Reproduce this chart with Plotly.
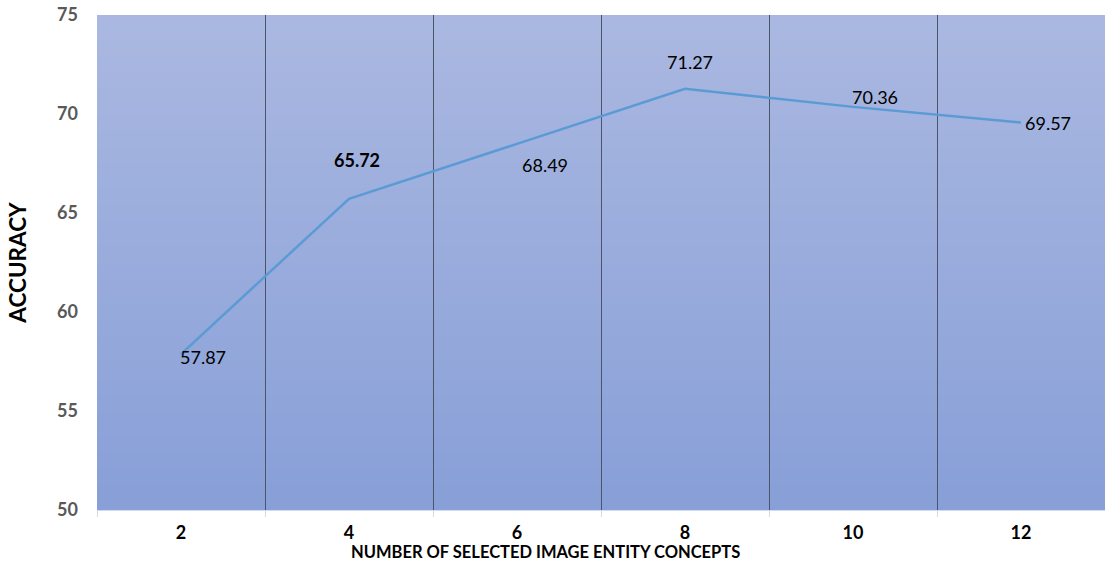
import plotly.graph_objects as go

categories = ["2", "4", "6", "8", "10", "12"]
accuracy = [57.87, 65.72, 68.49, 71.27, 70.36, 69.57]
label_bold = [False, True, False, False, False, False]
y_ticks = [50, 55, 60, 65, 70, 75]

# label offsets (pixels) relative to each point
label_dx = [22, 8, 28, 5, 22, 27]
label_dy = [-3, 39, -21, 27, 10, 0]

W, H = 1105, 567
FONT = "Lato, Open Sans, sans-serif"
fig = go.Figure()

fig.add_trace(go.Scatter(
    x=categories, y=accuracy, mode="lines",
    line=dict(color="#5B9BD5", width=2.5),
    hoverinfo="skip", showlegend=False,
))

# gradient background as overlapping horizontal strips
top = (170, 184, 225)
bot = (136, 159, 215)
n = 60
for i in range(n):
    t = i / (n - 1)
    c = tuple(round(top[k] + (bot[k] - top[k]) * t) for k in range(3))
    fig.add_shape(type="rect", xref="paper", yref="paper",
                  x0=0, x1=1, y0=max(0, 1 - (i + 1) / n - 0.006), y1=1 - i / n,
                  fillcolor="rgb(%d,%d,%d)" % c, line=dict(width=0),
                  layer="below")

for i, (v, b, dx, dy) in enumerate(zip(accuracy, label_bold, label_dx, label_dy)):
    fig.add_annotation(
        x=i, y=v, text=("<b>%.2f</b>" % v) if b else ("%.2f" % v),
        showarrow=False, xshift=dx, yshift=dy,
        font=dict(family=FONT, size=18, color="#000000"),
    )

fig.add_annotation(
    xref="paper", yref="paper", x=(545 - 97) / (W - 97), y=0,
    yshift=-42, yanchor="middle", showarrow=False,
    text="<b>NUMBER OF SELECTED IMAGE ENTITY CONCEPTS</b>",
    font=dict(family=FONT, size=16.5, color="#000000"),
)

fig.update_layout(
    width=W, height=H,
    margin=dict(l=97, r=0, t=15, b=57),
    paper_bgcolor="white", plot_bgcolor="rgba(0,0,0,0)",
    xaxis=dict(
        type="category", range=[-0.5, 5.5], tickson="boundaries",
        showgrid=True, gridcolor="#4C5468", gridwidth=1,
        ticks="outside", ticklen=6, tickcolor="#D0DAF0",
        showline=True, linecolor="#D0DAF0", linewidth=1,
        tickfont=dict(family=FONT, size=18, color="#000000", weight="bold"),
        ticklabelstandoff=6,
        zeroline=False,
    ),
    yaxis=dict(
        range=[50, 75], tickvals=y_ticks, showgrid=False, zeroline=False,
        showline=False, ticks="",
        tickfont=dict(family=FONT, size=18, color="#595959", weight="bold"),
        ticklabelstandoff=18,
        title=dict(text="<b>ACCURACY</b>", standoff=24,
                   font=dict(family=FONT, size=22.5, color="#000000")),
    ),
)

fig.write_html("out.html")
